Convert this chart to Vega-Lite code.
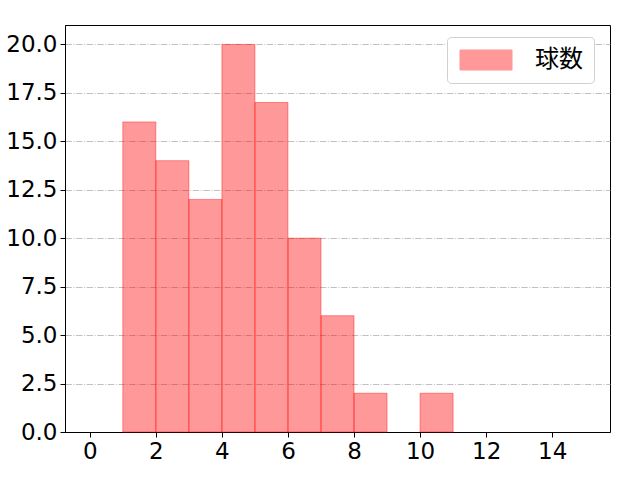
{
  "$schema": "https://vega.github.io/schema/vega-lite/v6.json",
  "width": 545,
  "height": 407,
  "autosize": {"type": "none"},
  "padding": {"left": 65, "top": 25, "right": 30, "bottom": 48},
  "background": "white",
  "config": {
    "view": {"stroke": "black", "strokeWidth": 1},
    "font": "DejaVu Sans",
    "axis": {
      "labelFont": "DejaVu Sans",
      "labelFontSize": 23,
      "labelColor": "black",
      "domainColor": "black",
      "tickColor": "black",
      "tickSize": 5,
      "labelPadding": 3,
      "zindex": 1
    }
  },
  "data": {
    "values": [
      {"start": 1, "end": 2, "count": 16, "series": "球数"},
      {"start": 2, "end": 3, "count": 14, "series": "球数"},
      {"start": 3, "end": 4, "count": 12, "series": "球数"},
      {"start": 4, "end": 5, "count": 20, "series": "球数"},
      {"start": 5, "end": 6, "count": 17, "series": "球数"},
      {"start": 6, "end": 7, "count": 10, "series": "球数"},
      {"start": 7, "end": 8, "count": 6, "series": "球数"},
      {"start": 8, "end": 9, "count": 2, "series": "球数"},
      {"start": 10, "end": 11, "count": 2, "series": "球数"}
    ]
  },
  "mark": {"type": "rect", "stroke": "red", "strokeOpacity": 0.4, "fillOpacity": 0.4, "strokeWidth": 1},
  "encoding": {
    "x": {
      "field": "start",
      "type": "quantitative",
      "scale": {"domain": [-0.75, 15.75], "nice": false, "zero": false},
      "axis": {"title": null, "values": [0, 2, 4, 6, 8, 10, 12, 14], "grid": false, "format": "d"}
    },
    "x2": {"field": "end"},
    "y": {
      "field": "count",
      "type": "quantitative",
      "scale": {"domain": [0, 21], "nice": false},
      "axis": {
        "title": null,
        "values": [0, 2.5, 5, 7.5, 10, 12.5, 15, 17.5, 20],
        "format": ".1f",
        "grid": true,
        "gridColor": "#b0b0b0",
        "gridDash": [6.4, 1.6, 1, 1.6],
        "gridWidth": 0.8
      }
    },
    "y2": {"datum": 0},
    "fill": {
      "field": "series",
      "type": "nominal",
      "scale": {"range": ["red"]},
      "legend": {
        "title": null,
        "orient": "none",
        "legendX": 382,
        "legendY": 12,
        "padding": 11,
        "strokeColor": "#d0d0d0",
        "fillColor": "white",
        "cornerRadius": 4,
        "symbolType": "M-1,-1H4.2V1H-1Z",
        "symbolSize": 400,
        "symbolStrokeColor": "red",
        "symbolStrokeWidth": 1,
        "symbolOpacity": 0.4,
        "labelFont": "Noto Sans CJK JP",
        "labelFontSize": 24,
        "labelColor": "black",
        "labelOffset": 53
      }
    }
  }
}
